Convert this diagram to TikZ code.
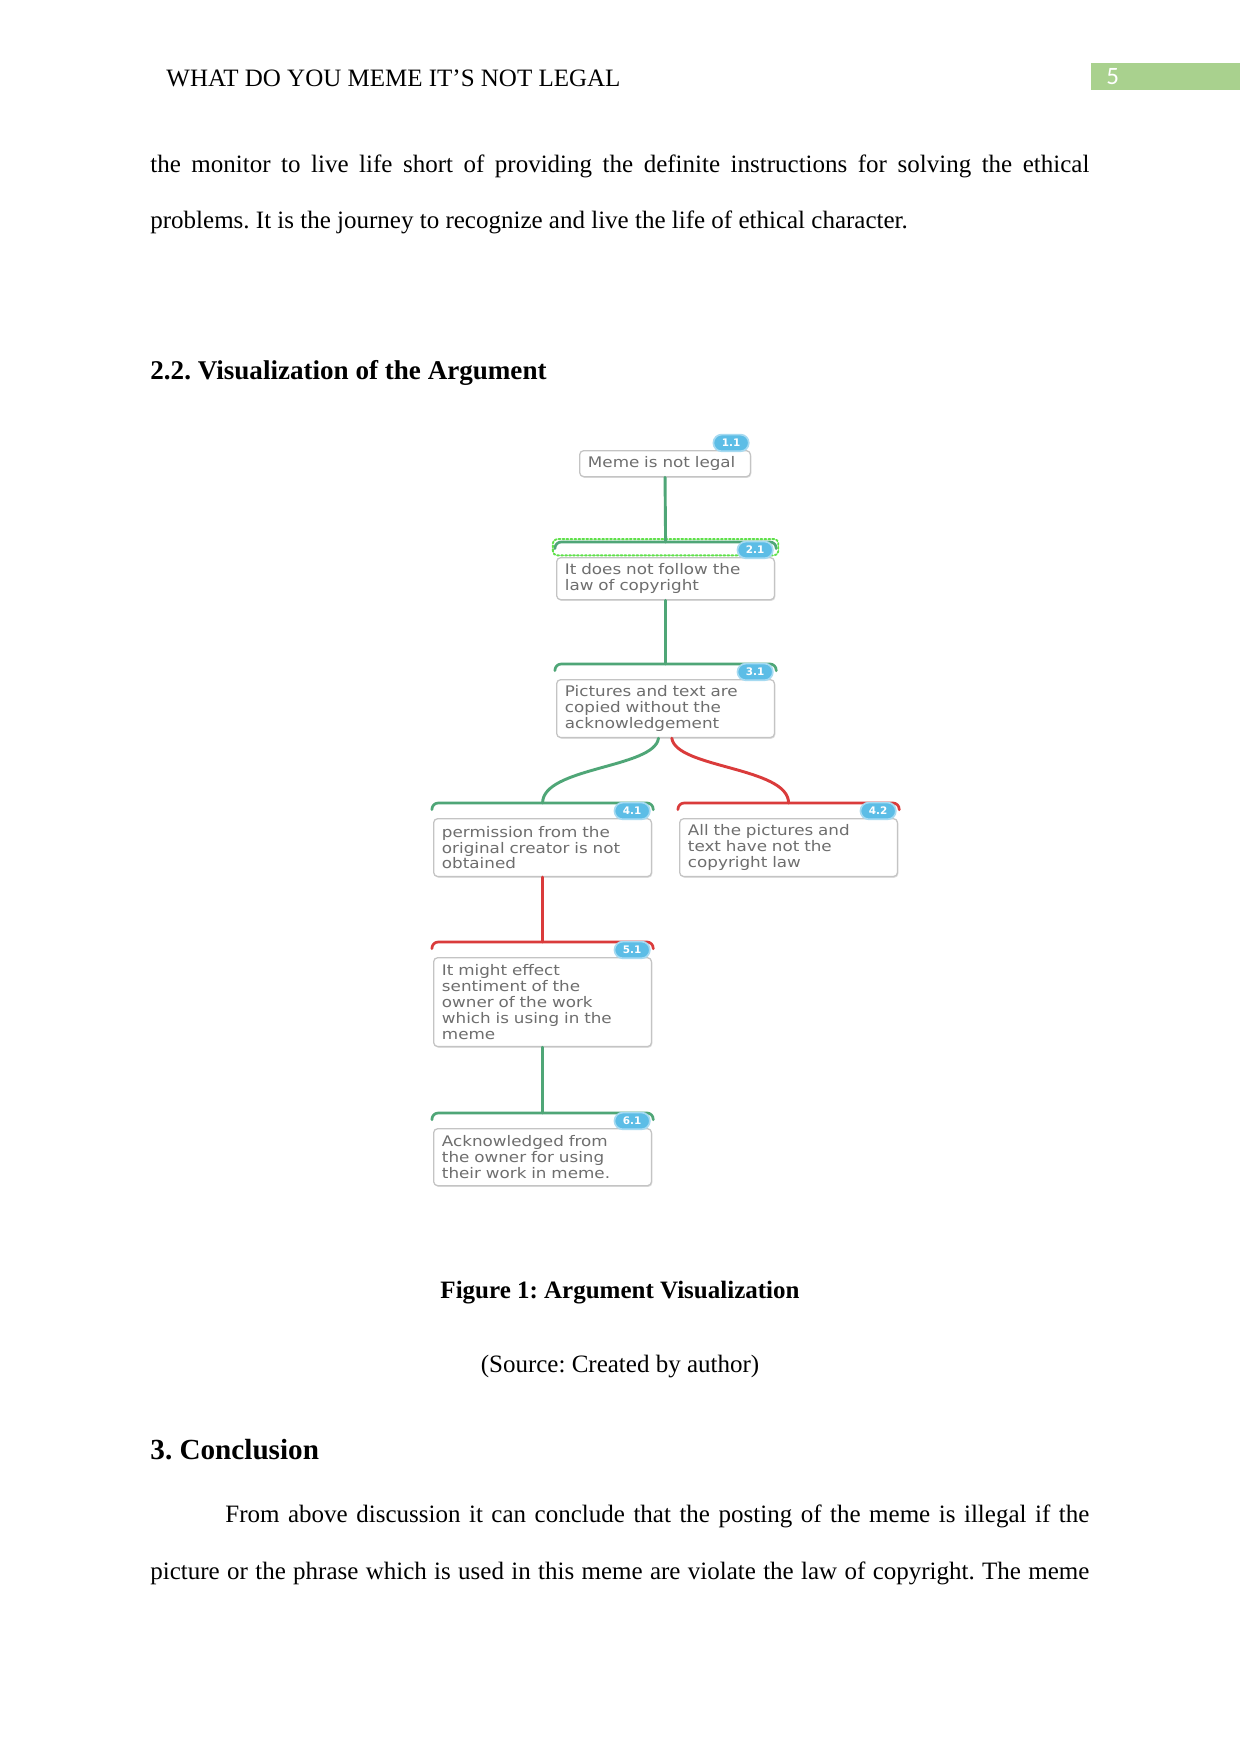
\documentclass[tikz,border=0pt]{standalone}
\usepackage{fontspec}
\setmainfont{Liberation Serif}
\newfontfamily\argfont[FakeStretch=1.15]{DejaVu Sans}
\newfontfamily\badgefont{DejaVu Sans}
\newfontfamily\numfont{Carlito}
\usetikzlibrary{positioning,shadows}
\definecolor{progreen}{HTML}{4FA677}
\definecolor{conred}{HTML}{DA3B3B}
\definecolor{boxgray}{HTML}{C4C4C4}
\definecolor{argtext}{HTML}{6E6E6E}
\definecolor{badgeblue}{HTML}{5CBDE6}
\definecolor{badgerim}{HTML}{A6DAF1}
\definecolor{selgreen}{HTML}{5FE04A}
\definecolor{pagegreen}{HTML}{A9D18E}
\frenchspacing
\begin{document}
\begin{tikzpicture}[x=0.48pt,y=-0.48pt,line join=round,line cap=round,
  bodytext/.style={anchor=base west,inner sep=0pt,font=\fontsize{12pt}{14pt}\selectfont},
  argbox/.style={draw=boxgray,line width=0.6pt,fill=white,rounded corners=2pt,anchor=north west,
    text width=96.6pt,inner xsep=4pt,inner ysep=2.5pt,align=left,
    font={\argfont\fontsize{7pt}{7.6pt}\selectfont},text=argtext,
    drop shadow={shadow xshift=0.4pt,shadow yshift=-0.6pt,opacity=0.25}},
  badge/.style={fill=badgeblue,draw=badgerim,line width=0.8pt,rounded corners=4pt,
    minimum width=17pt,minimum height=8pt,inner sep=0pt,text=white,
    font={\badgefont\bfseries\fontsize{5pt}{6pt}\selectfont}},
  pro/.style={draw=progreen,line width=1.4pt},
  con/.style={draw=conred,line width=1.4pt}]
\fill[white] (0,0) rectangle (1241,1754);
\useasboundingbox (0,0) rectangle (1241,1754);
% header
\node[bodytext] (hdr) at (166,86) {WHAT DO YOU MEME IT’S NOT LEGAL};
\fill[pagegreen] (1091,63) rectangle (1240,90);
\node[anchor=base west,inner sep=0pt,text=white,font={\numfont\fontsize{12pt}{14pt}\selectfont}] (pgnum) at (1106,84) {5};
% text above
\node[bodytext] (p1) at (150,172) {\makebox[450.7pt][s]{the monitor to live life short of providing the definite instructions for solving the ethical}};
\node[bodytext] (p2) at (150,228) {problems. It is the journey to recognize and live the life of ethical character.};
\node[bodytext,font={\bfseries\fontsize{13pt}{15pt}\selectfont}] (h22) at (150,379) {2.2. Visualization of the Argument};
% argument map
\node[argbox,text width=74pt,minimum height=12.5pt] (m11) at (579,450) {Meme is not legal};
\node[argbox,minimum height=20.2pt] (m21) at (556,557) {It does not follow the\\law of copyright};
\node[argbox,minimum height=27.8pt] (m31) at (556,679) {Pictures and text are\\copied without the\\acknowledgement};
\node[argbox,minimum height=27.8pt] (m41) at (433,818) {permission from the\\original creator is not\\obtained};
\node[argbox,minimum height=27.8pt] (m42) at (679,818) {All the pictures and\\text have not the\\copyright law};
\node[argbox,minimum height=42.7pt] (m51) at (433,957) {It might effect\\sentiment of the\\owner of the work\\which is using in the\\meme};
\node[argbox,minimum height=27.4pt] (m61) at (433,1128) {Acknowledged from\\the owner for using\\their work in meme.};
\foreach \b/\c in {m21/progreen,m31/progreen,m41/progreen,m42/conred,m51/conred,m61/progreen}{
  \draw[\c,line width=1.3pt,rounded corners=3pt]
    ([xshift=-0.5pt,yshift=4pt]\b.north west) |- ([yshift=7.2pt]\b.north)
    -| ([xshift=0.5pt,yshift=4pt]\b.north east);
  \coordinate (\b top) at ([yshift=7.2pt]\b.north);
}
\draw[selgreen,line width=0.9pt,densely dotted,rounded corners=2pt]
  ([xshift=-1.5pt,yshift=0.8pt]m21.north west) rectangle ([xshift=1.5pt,yshift=8.6pt]m21.north east);
\draw[pro] (m11.south) -- (m21top);
\draw[pro] (m21.south) -- (m31top);
\draw[pro] ([xshift=-3.4pt]m31.south) .. controls +(-4,30) and +(0,-36) .. (m41top);
\draw[con] ([xshift=3pt]m31.south) .. controls +(4,30) and +(0,-36) .. (m42top);
\draw[con] (m41.south) -- (m51top);
\draw[pro] (m51.south) -- (m61top);
\foreach \b/\t in {m11/1.1,m21/2.1,m31/3.1,m41/4.1,m42/4.2,m51/5.1,m61/6.1}
  \node[badge] (\b-tag) at ([xshift=-9.6pt,yshift=3.4pt]\b.north east) {\t};
% caption and text below
\node[anchor=base,inner sep=0pt,font={\bfseries\fontsize{12pt}{14pt}\selectfont}] (cap) at (620,1298) {Figure 1: Argument Visualization};
\node[anchor=base,inner sep=0pt,font=\fontsize{12pt}{14pt}\selectfont] (src) at (620,1372) {(Source: Created by author)};
\node[bodytext,font={\bfseries\fontsize{14pt}{16pt}\selectfont}] (h3) at (150,1459) {3. Conclusion};
\node[bodytext] (q1) at (225,1522) {\makebox[414.7pt][s]{From above discussion it can conclude that the posting of the meme is illegal if the}};
\node[bodytext] (q2) at (150,1579) {\makebox[450.7pt][s]{picture or the phrase which is used in this meme are violate the law of copyright. The meme}};
\end{tikzpicture}
\end{document}
